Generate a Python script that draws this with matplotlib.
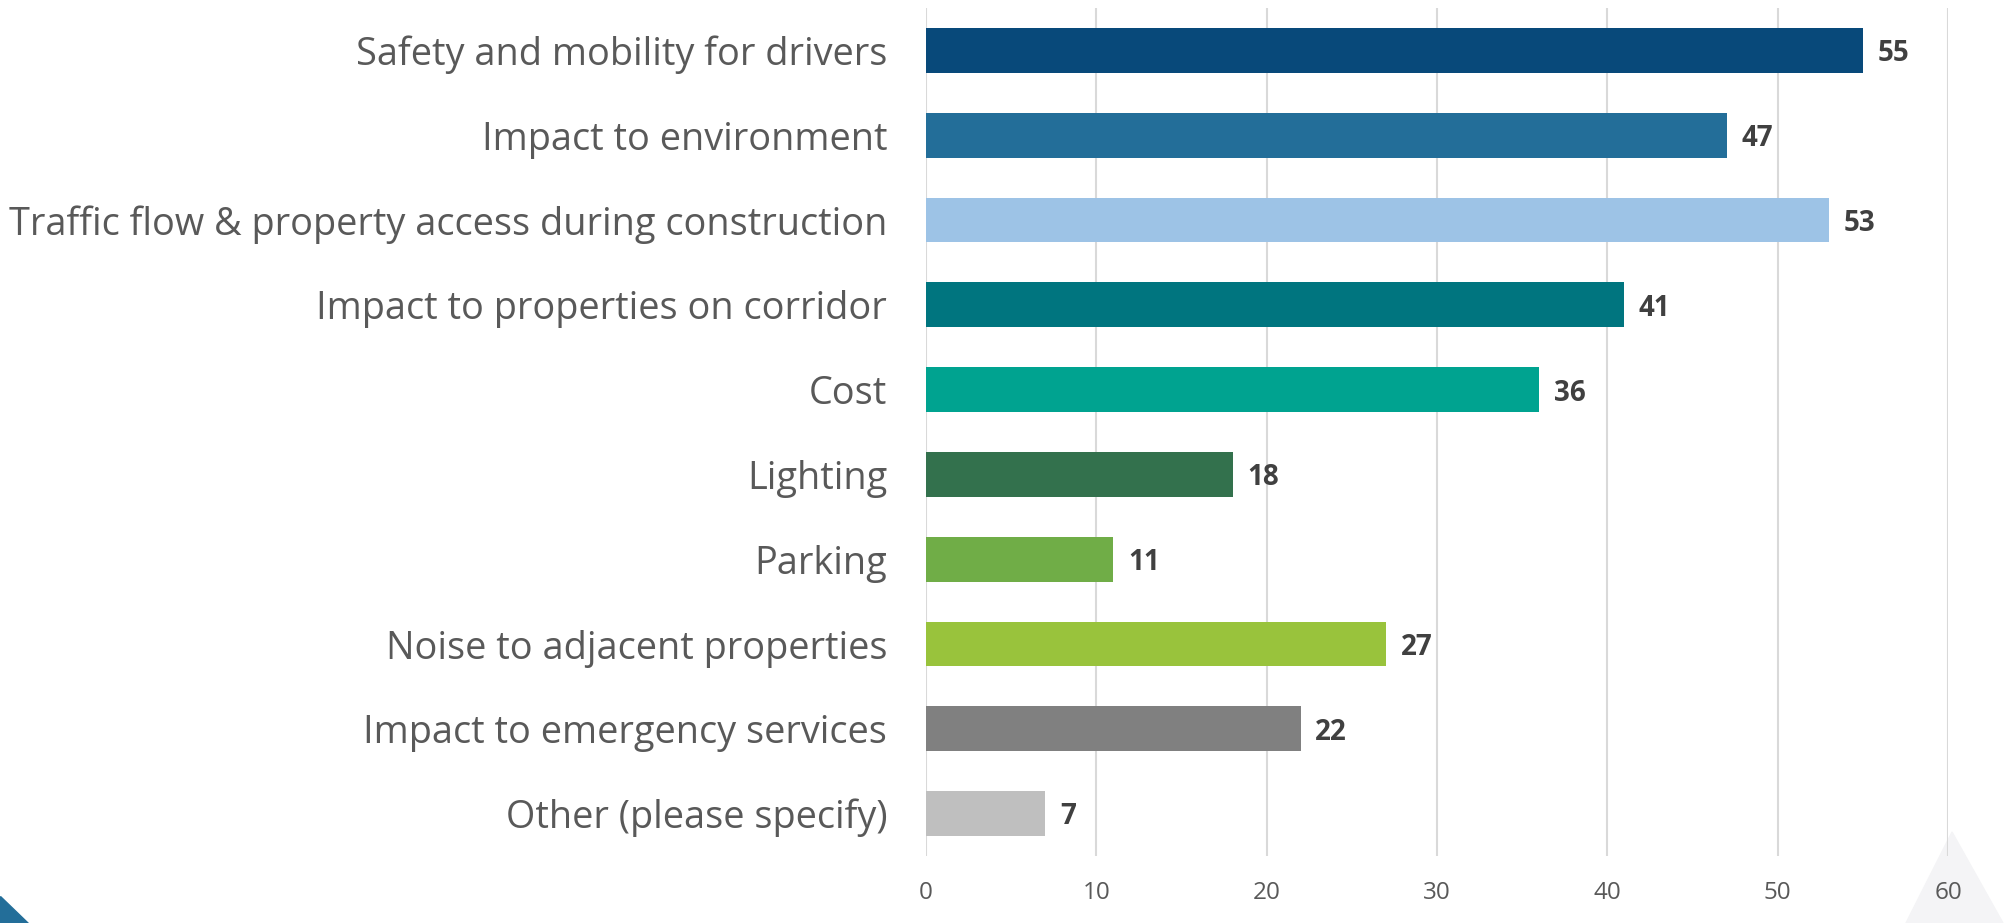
import matplotlib.pyplot as plt
from matplotlib.patches import Polygon

# --- data ---
categories = [
    "Safety and mobility for drivers",
    "Impact to environment",
    "Traffic flow & property access during construction",
    "Impact to properties on corridor",
    "Cost",
    "Lighting",
    "Parking",
    "Noise to adjacent properties",
    "Impact to emergency services",
    "Other (please specify)",
]
values = [55, 47, 53, 41, 36, 18, 11, 27, 22, 7]
colors = ["#08497A", "#236E99", "#9DC3E6", "#00757F", "#00A390",
          "#33714D", "#70AD47", "#99C33C", "#808080", "#BFBFBF"]
xticks = [0, 10, 20, 30, 40, 50, 60]

plt.rcParams['font.family'] = ['Open Sans', 'DejaVu Sans']

fig = plt.figure(figsize=(20.11, 9.23), dpi=100)

# corner decorations (drawn behind the axes)
W, H = 2011, 923
fig.patches.append(Polygon([(0, 1 - 896 / H), (0, 0), (28 / W, 0)],
                           closed=True, transform=fig.transFigure,
                           color='#236E99', zorder=-5))
fig.patches.append(Polygon([(1952 / W, 1 - 832 / H), (1906 / W, 0), (2003 / W, 0)],
                           closed=True, transform=fig.transFigure,
                           color='#F4F4F6', zorder=-5))

ax = fig.add_axes([0.4605, 0.0726, 0.5082, 0.9187])
ax.set_zorder(2)
ax.patch.set_alpha(0)

y = list(range(len(categories)))
ax.barh(y, values, height=0.53, color=colors, zorder=3)
ax.set_ylim(len(categories) - 0.5, -0.5)
ax.set_xlim(0, 60)

for yi, v in zip(y, values):
    ax.text(v + 0.85, yi + 0.04, str(v), va='center', ha='left',
            fontsize=20, fontweight='bold', color='#404040')

ax.set_yticks(y)
ax.set_yticklabels(categories, fontsize=27.3, color='#595959')
ax.set_xticks(xticks)
ax.set_xticklabels([str(t) for t in xticks], fontsize=17.5, color='#595959')
ax.tick_params(axis='both', length=0)
ax.tick_params(axis='y', pad=28)
ax.tick_params(axis='x', pad=18)
ax.grid(axis='x', color='#D9D9D9', linewidth=1.5, zorder=0)
for s in ax.spines.values():
    s.set_visible(False)

fig.savefig("out.png", dpi=100)
